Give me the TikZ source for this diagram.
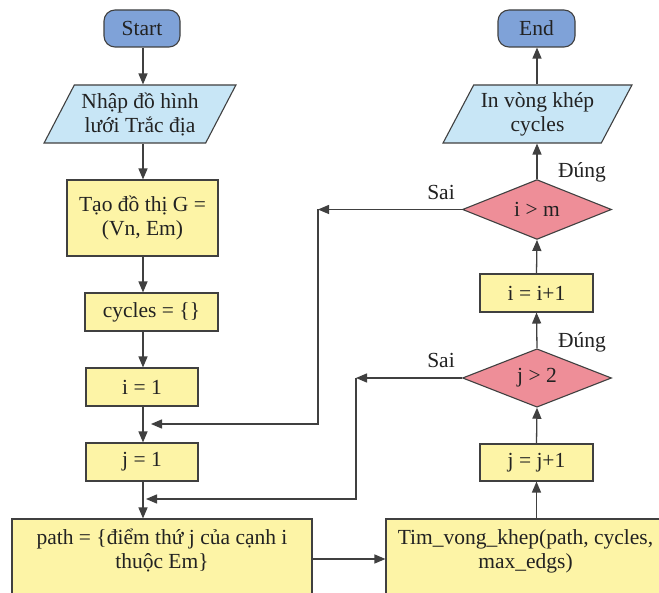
\documentclass[tikz,border=0pt]{standalone}
\usepackage{fontspec}
\setmainfont{Liberation Serif}
\usetikzlibrary{shapes.geometric,arrows.meta}
\definecolor{linec}{HTML}{404040}
\definecolor{txt}{HTML}{222222}
\definecolor{yel}{HTML}{FDF4A6}
\definecolor{tblue}{HTML}{7FA2D8}
\definecolor{lblue}{HTML}{C8E6F6}
\definecolor{pinkd}{HTML}{EE8E98}
\begin{document}
\begin{tikzpicture}[x=1pt,y=-1pt,
  base/.style={draw=linec, line width=1.1pt, font=\fontsize{21.5}{24}\selectfont, text=txt, inner sep=0pt, align=center},
  proc/.style={base, rectangle, fill=yel},
  term/.style={base, rectangle, rounded corners=11pt, fill=tblue},
  io/.style={base, trapezium, trapezium left angle=58, trapezium right angle=122, trapezium stretches=true, fill=lblue},
  dec/.style={base, diamond, fill=pinkd},
  arr/.style={draw=linec, line width=1.3pt, -{Triangle[length=11pt,width=9pt]}},
  lbl/.style={font=\fontsize{21.5}{24}\selectfont, text=txt, inner sep=0pt}]
\clip (0,0) rectangle (659,593);
\fill[white] (0,0) rectangle (659,593);
% left column
\node[term, minimum width=76pt, minimum height=37pt] (start) at (142,28.5) {Start};
\node[io, minimum width=192pt, minimum height=58pt] (in1) at (140,114) {Nhập đồ hình\\lưới Trắc địa};
\node[proc, minimum width=151pt, minimum height=76pt] (tao) at (142.5,218) {Tạo đồ thị G =\\(Vn, Em)};
\node[proc, minimum width=133pt, minimum height=38pt] (cyc) at (151.5,312) {cycles = \{\}};
\node[proc, minimum width=112pt, minimum height=38pt] (i1) at (142,387) {i = 1};
\node[proc, minimum width=112pt, minimum height=38pt] (j1) at (142,462) {j = 1};
\node[proc, minimum width=300pt, minimum height=80pt, text depth=20pt] (path) at (162,559) {path = \{điểm thứ j của cạnh i\\thuộc Em\}};
% right column
\node[proc, minimum width=279pt, minimum height=80pt, text depth=20pt] (tim) at (525.5,559) {Tim\_vong\_khep(path, cycles,\\max\_edgs)};
\node[proc, minimum width=113pt, minimum height=37pt] (jj) at (536.5,462.5) {j = j+1};
\node[dec, minimum width=149pt, minimum height=56pt] (d2) at (537,378) {j > 2};
\node[proc, minimum width=113pt, minimum height=38pt] (ii) at (536.5,293) {i = i+1};
\node[dec, minimum width=149pt, minimum height=55pt] (d1) at (537,209.5) {i > m};
\node[io, minimum width=189pt, minimum height=58pt] (out) at (537.5,114) {In vòng khép\\cycles};
\node[term, minimum width=77pt, minimum height=37pt] (end) at (536.5,28.5) {End};
% labels
\node[lbl] (s1) at (441,192) {Sai};
\node[lbl] (t1) at (582,172) {Đúng};
\node[lbl] (s2) at (441,360) {Sai};
\node[lbl] (t2) at (582,342) {Đúng};
% main flow
\draw[arr] (start.south -| 143,0) -- (in1.north -| 143,0);
\draw[arr] (in1.south -| 143,0) -- (tao.north -| 143,0);
\draw[arr] (tao.south -| 143,0) -- (cyc.north -| 143,0);
\draw[arr] (cyc.south -| 143,0) -- (i1.north -| 143,0);
\draw[arr] (i1.south -| 143,0) -- (j1.north -| 143,0);
\draw[arr] (j1.south -| 143,0) -- (path.north -| 143,0);
\draw[arr] (path.east) -- (tim.west);
\draw[arr] (tim.north -| jj.south) -- (jj.south);
\draw[arr] (jj.north) -- (d2.south);
\draw[arr] (d2.north) -- (ii.south);
\draw[arr] (ii.north) -- (d1.south);
\draw[arr] (d1.north) -- (out.south -| d1.north);
\draw[arr] (out.north -| d1.north) -- (end.south -| d1.north);
% feedback loops
\coordinate (c1) at (318,209.5);
\coordinate (c2) at (151,424);
\draw[arr] (d1.west) -- (c1);
\draw[arr] (c1) |- (c2);
\coordinate (c3) at (356,378);
\coordinate (c4) at (146,499);
\draw[arr] (d2.west) -- (c3);
\draw[arr] (c3) |- (c4);
\end{tikzpicture}
\end{document}
